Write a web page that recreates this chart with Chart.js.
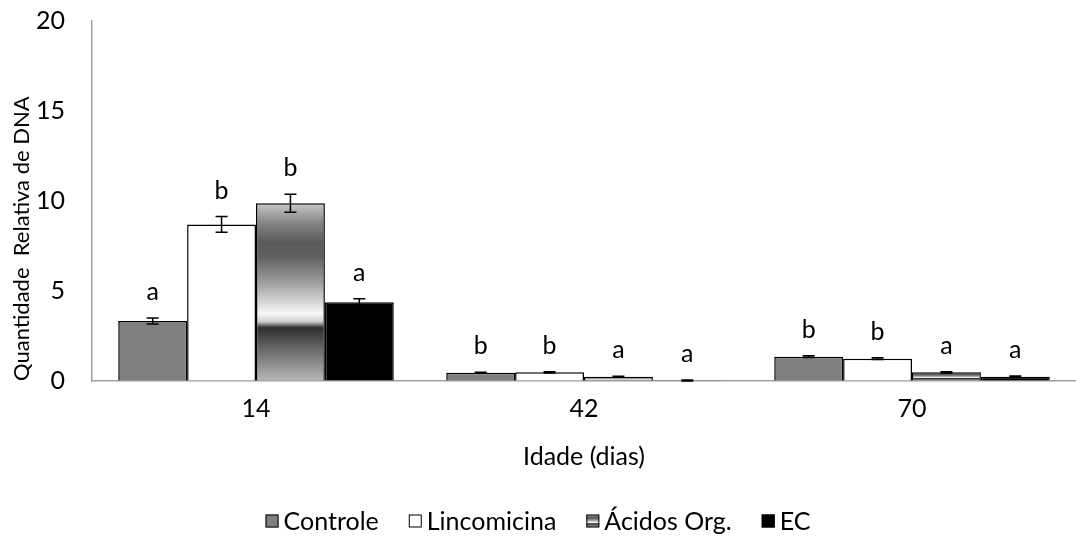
<!DOCTYPE html>
<html lang="pt">
<head>
  <meta charset="UTF-8" />
  <title>Quantidade Relativa de DNA</title>
  <script src="https://cdn.jsdelivr.net/npm/chart.js"></script>
  <style>
    body {
      margin: 0;
      background: #ffffff;
      overflow: hidden;
    }
    #chartContainer {
      width: 1076px;
      height: 545px;
    }
  </style>
</head>
<body>
  <div id="chartContainer">
    <canvas id="dnaChart"></canvas>
  </div>

  <script>
    // idade (dias)
    const categories = ['14', '42', '70'];
    const seriesNames = ['Controle', 'Lincomicina', 'Ácidos Org.', 'EC'];

    // quantidade relativa de DNA
    const controle = [3.33, 0.46, 1.35];
    const lincomicina = [8.70, 0.48, 1.24];
    const acidos = [9.87, 0.24, 0.48];
    const ec = [4.37, 0.02, 0.24];

    // erro padrão
    const controleErr = [0.17, 0.03, 0.05];
    const lincomicinaErr = [0.44, 0.03, 0.05];
    const acidosErr = [0.50, 0.03, 0.04];
    const ecErr = [0.20, 0.03, 0.04];

    // letras de significância
    const controleLetters = ['a', 'b', 'b'];
    const lincomicinaLetters = ['b', 'b', 'b'];
    const acidosLetters = ['b', 'a', 'a'];
    const ecLetters = ['a', 'a', 'a'];

    const FONT = 'Lato, Carlito, Calibri, sans-serif';

    function acidosGradient(c, top, bottom) {
      const g = c.createLinearGradient(0, top, 0, bottom);
      g.addColorStop(0, '#c8c8c8');
      g.addColorStop(0.11, '#858585');
      g.addColorStop(0.22, '#5a5a5a');
      g.addColorStop(0.30, '#606060');
      g.addColorStop(0.45, '#a0a0a0');
      g.addColorStop(0.62, '#f7f7f7');
      g.addColorStop(0.665, '#cfcfcf');
      g.addColorStop(0.70, '#2e2e2e');
      g.addColorStop(0.82, '#686868');
      g.addColorStop(1, '#b8b8b8');
      return g;
    }

    function acidosFill(context) {
      const chart = context.chart;
      if (context.type !== 'data' || !chart.chartArea) return '#999999';
      const y = chart.scales.y;
      return acidosGradient(chart.ctx, y.getPixelForValue(context.raw), y.getPixelForValue(0));
    }

    // barras de erro + letras
    const annotatePlugin = {
      id: 'annotate',
      afterDatasetsDraw(chart) {
        const ctx = chart.ctx;
        const y = chart.scales.y;
        ctx.save();
        chart.data.datasets.forEach((ds, di) => {
          const meta = chart.getDatasetMeta(di);
          meta.data.forEach((bar, i) => {
            const v = ds.data[i];
            const e = ds.errors[i];
            const hi = y.getPixelForValue(v + e);
            const lo = y.getPixelForValue(Math.max(v - e, 0));
            ctx.strokeStyle = '#000';
            ctx.lineWidth = 1.5;
            ctx.beginPath();
            ctx.moveTo(bar.x, hi); ctx.lineTo(bar.x, lo);
            ctx.moveTo(bar.x - 6, hi); ctx.lineTo(bar.x + 6, hi);
            ctx.moveTo(bar.x - 6, lo); ctx.lineTo(bar.x + 6, lo);
            ctx.stroke();
            ctx.fillStyle = '#000';
            ctx.font = '25px ' + FONT;
            ctx.textAlign = 'center';
            ctx.textBaseline = 'middle';
            ctx.fillText(ds.letters[i], bar.x, hi - 26);
          });
        });
        ctx.restore();
      }
    };

    // legenda embaixo
    const legendPlugin = {
      id: 'bottomLegend',
      afterDraw(chart) {
        const ctx = chart.ctx;
        const box = 13, gap = 5, spacing = 30, cy = 521;
        ctx.save();
        ctx.font = '25px ' + FONT;
        ctx.textBaseline = 'middle';
        ctx.textAlign = 'left';
        const items = chart.data.datasets.map(ds => ({ ds, w: box + gap + ctx.measureText(ds.label).width }));
        const total = items.reduce((s, it) => s + it.w, 0) + spacing * (items.length - 1);
        let x = chart.width / 2 - total / 2;
        items.forEach(it => {
          const top = cy - box / 2;
          ctx.fillStyle = it.ds.label === 'Ácidos Org.' ? acidosGradient(ctx, top, top + box) : it.ds.backgroundColor;
          ctx.fillRect(x, top, box, box);
          ctx.strokeStyle = '#000';
          ctx.lineWidth = 1;
          ctx.strokeRect(x + 0.5, top + 0.5, box - 1, box - 1);
          ctx.fillStyle = '#000';
          ctx.fillText(it.ds.label, x + box + gap, cy + 1);
          x += it.w + spacing;
        });
        ctx.restore();
      }
    };

    const datasets = [
      { label: seriesNames[0], data: controle, errors: controleErr, letters: controleLetters, backgroundColor: '#808080' },
      { label: seriesNames[1], data: lincomicina, errors: lincomicinaErr, letters: lincomicinaLetters, backgroundColor: '#ffffff' },
      { label: seriesNames[2], data: acidos, errors: acidosErr, letters: acidosLetters, backgroundColor: acidosFill },
      { label: seriesNames[3], data: ec, errors: ecErr, letters: ecLetters, backgroundColor: '#000000' }
    ];
    datasets.forEach(d => {
      d.borderColor = '#000000';
      d.borderWidth = 1.5;
      d.categoryPercentage = 0.84;
      d.barPercentage = 1.0;
    });

    new Chart(document.getElementById('dnaChart'), {
      type: 'bar',
      data: { labels: categories, datasets },
      plugins: [annotatePlugin, legendPlugin],
      options: {
        responsive: true,
        maintainAspectRatio: false,
        animation: false,
        layout: { padding: { top: 21, right: 0, bottom: 64, left: 0 } },
        plugins: {
          legend: { display: false },
          tooltip: { enabled: false }
        },
        scales: {
          x: {
            afterFit: s => { s.height = 100; },
            grid: { display: true, drawOnChartArea: false, drawTicks: false },
            border: { color: '#a0a0a0', width: 1.5 },
            ticks: { color: '#000', font: { family: FONT, size: 25 }, padding: 13 },
            title: { display: true, text: 'Idade (dias)', color: '#000', font: { family: FONT, size: 25 }, padding: { top: 4, bottom: 9 } }
          },
          y: {
            min: 0,
            max: 20,
            afterFit: s => { s.width = 92; s.paddingTop = 0; s.paddingBottom = 0; },
            grid: { display: true, drawOnChartArea: false, drawTicks: false },
            border: { color: '#a0a0a0', width: 1.5 },
            ticks: { stepSize: 5, color: '#000', font: { family: FONT, size: 25 }, padding: 27 },
            title: { display: true, align: 'start', text: 'Quantidade  Relativa de DNA', color: '#000', font: { family: FONT, size: 22 }, padding: { top: 9, bottom: 0 } }
          }
        }
      }
    });
  </script>
</body>
</html>
